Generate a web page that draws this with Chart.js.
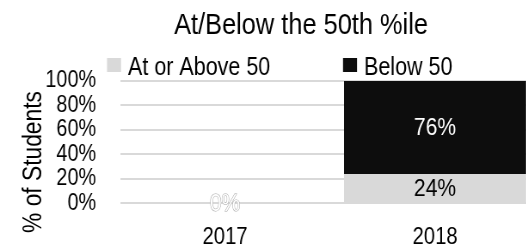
<!DOCTYPE html>
<html>
<head>
<meta charset="utf-8">
<script src="https://cdn.jsdelivr.net/npm/chart.js@4/dist/chart.umd.min.js"></script>
<style>
    html, body { margin: 0; padding: 0; background: #fff; overflow: hidden; }
    /* the original uses a narrow font; Liberation Sans squeezed gives the same look */
    #chart { transform: scaleX(0.86); transform-origin: 0 0; }
</style>
</head>
<body>
<canvas id="chart" width="628" height="245"></canvas>
<script>
"use strict";

var categories = ['2017', '2018'];
var atOrAbove = [null, 24];
var below = [0, 76];
var seriesNames = ['At or Above 50', 'Below 50'];
var yTicks = [0, 20, 40, 60, 80, 100];
var chartTitle = 'At/Below the 50th %ile';
var yTitle = '% of Students';

var SQUEEZE = 0.86;
var FONT = "'Liberation Sans', Arial, sans-serif";
var LIGHT = '#d9d9d9';
var DARK = '#0d0d0d';

// page px -> canvas px (canvas is squeezed horizontally by css)
function px(x) {
    return x / SQUEEZE;
}

// title, legend and axis title are placed by hand like the Excel original
var textPlugin = {
    id: 'excelText',
    afterDraw: function (chart) {
        var ctx = chart.ctx;
        ctx.save();
        ctx.fillStyle = '#000';

        ctx.font = '29.5px ' + FONT;
        ctx.textAlign = 'center';
        ctx.textBaseline = 'alphabetic';
        ctx.fillText(chartTitle, px(301), 34);

        var legendItems = [
            { x: 107, color: LIGHT, text: seriesNames[0] },
            { x: 343, color: DARK, text: seriesNames[1] }
        ];
        ctx.font = '25px ' + FONT;
        ctx.textAlign = 'left';
        for (var i = 0; i < legendItems.length; i++) {
            ctx.fillStyle = legendItems[i].color;
            ctx.fillRect(px(legendItems[i].x), 58, px(14), 14);
            ctx.fillStyle = '#000';
            ctx.fillText(legendItems[i].text, px(legendItems[i].x + 21), 75);
        }

        // rotated title: undo the css squeeze, then squeeze along the text
        ctx.scale(1 / SQUEEZE, 1);
        ctx.translate(41, 162);
        ctx.rotate(-Math.PI / 2);
        ctx.scale(SQUEEZE, 1);
        ctx.font = '26.5px ' + FONT;
        ctx.textAlign = 'center';
        ctx.fillText(yTitle, 0, 0);
        ctx.restore();
    }
};

var labelPlugin = {
    id: 'barLabels',
    afterDatasetsDraw: function (chart) {
        var ctx = chart.ctx;
        ctx.save();
        ctx.font = '24.5px ' + FONT;
        ctx.textAlign = 'center';
        ctx.textBaseline = 'middle';
        chart.data.datasets.forEach(function (ds, di) {
            var meta = chart.getDatasetMeta(di);
            meta.data.forEach(function (bar, i) {
                var v = ds.data[i];
                if (v === null || v === undefined) return;
                var p = bar.getProps(['x', 'y', 'base'], true);
                var y = (p.y + p.base) / 2 + 1;
                var txt = v + '%';
                if (v === 0) {
                    // zero label sits on white, Excel shows it as an outline
                    ctx.lineWidth = 1;
                    ctx.strokeStyle = '#a6a6a6';
                    ctx.strokeText(txt, p.x, y);
                    ctx.fillStyle = '#fff';
                    ctx.fillText(txt, p.x, y);
                } else {
                    ctx.fillStyle = di === 1 ? '#fff' : '#000';
                    ctx.fillText(txt, p.x, y);
                }
            });
        });
        ctx.restore();
    }
};

new Chart(document.getElementById('chart').getContext('2d'), {
    type: 'bar',
    data: {
        labels: categories,
        datasets: [
            { label: seriesNames[0], data: atOrAbove, backgroundColor: LIGHT },
            { label: seriesNames[1], data: below, backgroundColor: DARK }
        ]
    },
    options: {
        responsive: false,
        animation: false,
        devicePixelRatio: 1,
        layout: { padding: { top: 81, left: 0, right: 0, bottom: 0 } },
        datasets: { bar: { categoryPercentage: 1, barPercentage: 0.867 } },
        plugins: {
            legend: { display: false },
            title: { display: false },
            tooltip: { enabled: false }
        },
        scales: {
            x: {
                stacked: true,
                grid: { display: false },
                border: { display: false },
                ticks: { color: '#000', padding: 12, font: { family: FONT, size: 23.5 } },
                afterFit: function (s) { s.height = 41; }
            },
            y: {
                stacked: true,
                min: 0,
                max: 100,
                afterBuildTicks: function (s) {
                    s.ticks = yTicks.map(function (v) { return { value: v }; });
                },
                grid: { color: LIGHT, lineWidth: 2, drawTicks: false },
                border: { display: false },
                ticks: {
                    color: '#000',
                    autoSkip: false,
                    padding: px(24),
                    font: { family: FONT, size: 23 },
                    callback: function (v) { return v + '%'; }
                },
                afterFit: function (s) { s.width = px(120); }
            }
        }
    },
    plugins: [textPlugin, labelPlugin]
});
</script>
</body>
</html>
